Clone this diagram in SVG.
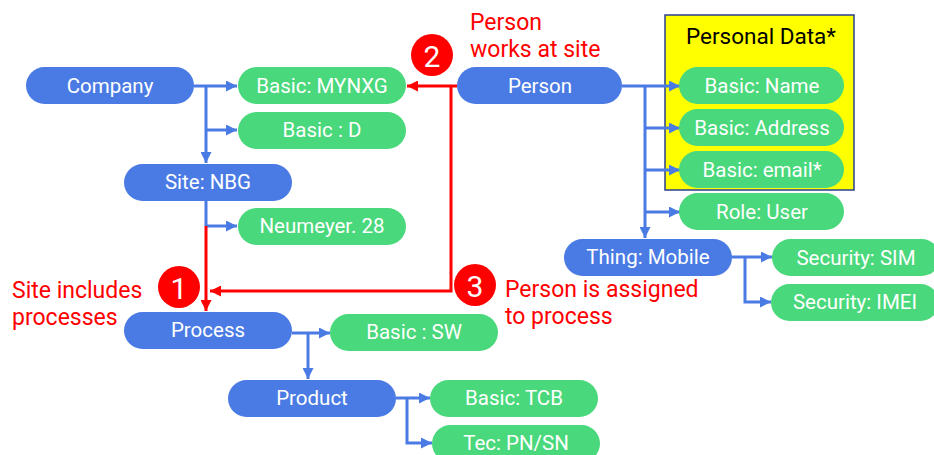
<svg xmlns="http://www.w3.org/2000/svg" width="934" height="455" viewBox="0 0 934 455">
<defs>
<marker id="ab" viewBox="0 0 10 10" refX="10" refY="5" markerWidth="11" markerHeight="11" markerUnits="userSpaceOnUse" orient="auto"><path d="M0,0 L10,5 L0,10 z" fill="#4a7be4"/></marker>
<marker id="ar" viewBox="0 0 10 10" refX="10" refY="5" markerWidth="11" markerHeight="11" markerUnits="userSpaceOnUse" orient="auto"><path d="M0,0 L10,5 L0,10 z" fill="#ff0000"/></marker>
</defs>
<style>
.b{fill:#4a7be4}
.g{fill:#49d87b}
.t{font-family:Roboto,"Liberation Sans",sans-serif;font-size:20.5px;fill:#fff;text-anchor:middle;dominant-baseline:central}
.r{font-family:Roboto,"Liberation Sans",sans-serif;font-size:23px;fill:#ff0000}
.c{fill:#ff0000}
.cn{font-family:Roboto,"Liberation Sans",sans-serif;font-size:30px;fill:#fff;text-anchor:middle;dominant-baseline:central}
.lb{fill:none;stroke:#4a7be4;stroke-width:3}
.lr{fill:none;stroke:#ff0000;stroke-width:3}
</style>
<rect x="665" y="15" width="189" height="175" fill="#ffff00" stroke="#2a3f8f" stroke-width="1.5"/>
<text x="761" y="36" font-family="Roboto,'Liberation Sans',sans-serif" font-size="22.5" fill="#000" text-anchor="middle" dominant-baseline="central">Personal Data*</text>
<g id="connectors">
<path class="lb" d="M194,86 H237" marker-end="url(#ab)"/>
<path class="lb" d="M206,86 V163" marker-end="url(#ab)"/>
<path class="lb" d="M206,130 H237" marker-end="url(#ab)"/>
<path class="lb" d="M206,200 V226"/>
<path class="lb" d="M206,226 H237" marker-end="url(#ab)"/>
<path class="lr" d="M206,226 V311" marker-end="url(#ar)"/>
<path class="lr" d="M457,86 H407" marker-end="url(#ar)"/>
<path class="lr" d="M451,86 V291 H210" marker-end="url(#ar)"/>
<path class="lb" d="M622,86 H680" marker-end="url(#ab)"/>
<path class="lb" d="M645,86 V238" marker-end="url(#ab)"/>
<path class="lb" d="M645,128 H680" marker-end="url(#ab)"/>
<path class="lb" d="M645,170 H680" marker-end="url(#ab)"/>
<path class="lb" d="M645,212 H680" marker-end="url(#ab)"/>
<path class="lb" d="M292,333 H330" marker-end="url(#ab)"/>
<path class="lb" d="M308,333 V379" marker-end="url(#ab)"/>
<path class="lb" d="M396,398 H430" marker-end="url(#ab)"/>
<path class="lb" d="M407,398 V443 H432" marker-end="url(#ab)"/>
<path class="lb" d="M732,257 H772" marker-end="url(#ab)"/>
<path class="lb" d="M745,257 V302 H771" marker-end="url(#ab)"/>
</g>
<g id="company"><rect class="b" x="26" y="67" width="168" height="37" rx="18.5"/><text class="t" x="110" y="86">Company</text></g>
<g id="basic-mynxg"><rect class="g" x="238" y="67" width="168" height="37" rx="18.5"/><text class="t" x="322" y="86">Basic: MYNXG</text></g>
<g id="basic-d"><rect class="g" x="238" y="112" width="168" height="37" rx="18.5"/><text class="t" x="322" y="130">Basic : D</text></g>
<g id="site"><rect class="b" x="124" y="164" width="168" height="37" rx="18.5"/><text class="t" x="208" y="182">Site: NBG</text></g>
<g id="neumeyer"><rect class="g" x="238" y="208" width="168" height="37" rx="18.5"/><text class="t" x="322" y="226">Neumeyer. 28</text></g>
<g id="process"><rect class="b" x="124" y="312" width="168" height="37" rx="18.5"/><text class="t" x="208" y="330">Process</text></g>
<g id="basic-sw"><rect class="g" x="330" y="314" width="168" height="37" rx="18.5"/><text class="t" x="414" y="332">Basic : SW</text></g>
<g id="product"><rect class="b" x="228" y="380" width="168" height="37" rx="18.5"/><text class="t" x="312" y="398">Product</text></g>
<g id="basic-tcb"><rect class="g" x="430" y="380" width="168" height="37" rx="18.5"/><text class="t" x="514" y="398">Basic: TCB</text></g>
<g id="tec"><rect class="g" x="432" y="425" width="168" height="37" rx="18.5"/><text class="t" x="516" y="443">Tec: PN/SN</text></g>
<g id="person"><rect class="b" x="457" y="67" width="165" height="37" rx="18.5"/><text class="t" x="540" y="86">Person</text></g>
<g id="basic-name"><rect class="g" x="679" y="67" width="165" height="37" rx="18.5"/><text class="t" x="762" y="86">Basic: Name</text></g>
<g id="basic-address"><rect class="g" x="679" y="109" width="165" height="37" rx="18.5"/><text class="t" x="762" y="128">Basic: Address</text></g>
<g id="basic-email"><rect class="g" x="679" y="151" width="165" height="37" rx="18.5"/><text class="t" x="762" y="170">Basic: email*</text></g>
<g id="role-user"><rect class="g" x="679" y="193" width="165" height="37" rx="18.5"/><text class="t" x="762" y="212">Role: User</text></g>
<g id="thing-mobile"><rect class="b" x="564" y="239" width="168" height="37" rx="18.5"/><text class="t" x="648" y="257">Thing: Mobile</text></g>
<g id="security-sim"><rect class="g" x="772" y="239" width="168" height="37" rx="18.5"/><text class="t" x="856" y="258">Security: SIM</text></g>
<g id="security-imei"><rect class="g" x="771" y="284" width="168" height="37" rx="18.5"/><text class="t" x="855" y="302">Security: IMEI</text></g>
<g id="label-1"><circle class="c" cx="179" cy="287" r="21"/><text class="cn" x="179" y="288">1</text>
<text class="r" x="12" y="298">Site includes</text><text class="r" x="12" y="325">processes</text></g>
<g id="label-2"><circle class="c" cx="432" cy="55" r="21"/><text class="cn" x="432" y="56">2</text>
<text class="r" x="470" y="30">Person</text><text class="r" x="470" y="57">works at site</text></g>
<g id="label-3"><circle class="c" cx="475" cy="285" r="21"/><text class="cn" x="475" y="286">3</text>
<text class="r" x="505" y="297">Person is assigned</text><text class="r" x="505" y="324">to process</text></g>
</svg>
